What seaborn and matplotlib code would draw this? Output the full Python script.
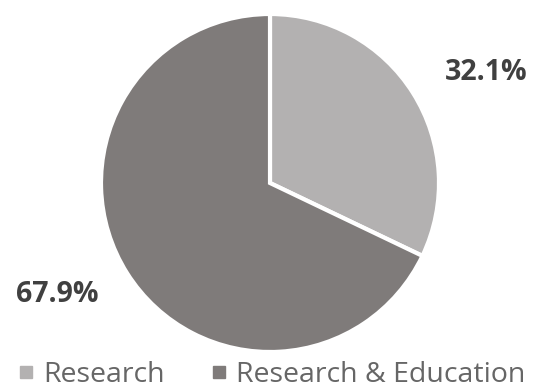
import matplotlib
matplotlib.use("Agg")
import matplotlib.pyplot as plt
from matplotlib.lines import Line2D
import seaborn as sns

categories = ["Research", "Research & Education"]
shares = [32.1, 67.9]
colors = ["#b3b1b1", "#7f7b7a"]

sns.set_theme(style="white")
plt.rcParams["font.family"] = ["Open Sans", "DejaVu Sans"]

W, H = 538, 389
fig = plt.figure(figsize=(W / 100, H / 100), dpi=100)
ax = fig.add_axes([0, 0, 1, 1])

wedges, _ = ax.pie(
    shares,
    colors=colors,
    startangle=90,
    counterclock=False,
    center=(270, H - 183),
    radius=169,
    wedgeprops=dict(edgecolor="white", linewidth=3),
    frame=True,
)
ax.set_xlim(0, W)
ax.set_ylim(0, H)
ax.set_aspect("equal")
ax.axis("off")

label_pos = [(486, H - 72), (57, H - 294)]
for (x, y), v in zip(label_pos, shares):
    ax.text(x, y, f"{v:.1f}%", ha="center", va="center",
            fontsize=20.5, fontweight="bold", color="#404040")

handles = [Line2D([0], [0], marker="s", linestyle="none", markersize=8,
                  markerfacecolor=c, markeredgecolor=c) for c in colors]
fig.legend(handles, categories, loc="center left", ncol=2, frameon=False,
           bbox_to_anchor=(20 / W, 1 - 375 / H), fontsize=20.5,
           borderpad=0, borderaxespad=0, handletextpad=0.4,
           columnspacing=1.7, handlelength=0.4, labelcolor="#666666")

fig.savefig("out.png", dpi=100)
